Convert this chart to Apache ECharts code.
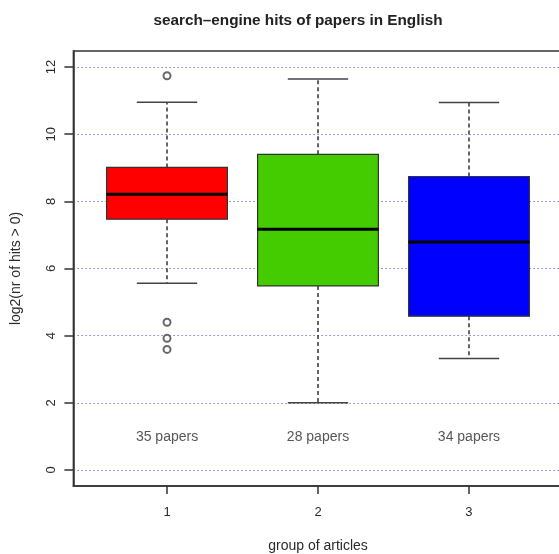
<!DOCTYPE html>
<html><head><meta charset="utf-8">
<script src="https://cdn.jsdelivr.net/npm/echarts@6/dist/echarts.min.js"></script>
<style>html,body{margin:0;padding:0;background:#fff}#c{width:559px;height:554px}</style>
</head><body><div id="c"></div>
<script>
// Group positions and their tick labels
const groups = [1, 2, 3];
const groupLabels = ['1', '2', '3'];
// Five-number summaries per group (log2 of hit counts)
const lowerWhisker = [5.56, 2.0, 3.32];
const q1 = [7.47, 5.48, 4.58];
const median = [8.21, 7.17, 6.79];
const q3 = [9.01, 9.40, 8.74];
const upperWhisker = [10.95, 11.64, 10.94];
// Points beyond the whiskers: [group, value]
const outlierGroup = [1, 1, 1, 1];
const outlierValue = [11.74, 4.40, 3.92, 3.59];
// Number of papers per group
const paperCounts = [35, 28, 34];
const yTicks = [0, 2, 4, 6, 8, 10, 12];

const boxColors = ['#ff0000', '#44cc00', '#0000ff'];
const FONT = '"Liberation Sans", Arial, Helvetica, sans-serif';

const boxRows = groups.map((g, i) => [g, lowerWhisker[i], q1[i], median[i], q3[i], upperWhisker[i]]);
const outlierRows = outlierGroup.map((g, i) => [g, outlierValue[i]]);
const countRows = groups.map((g, i) => [g, 1, paperCounts[i]]);

function renderBox(params, api) {
  const i = params.dataIndex;
  const x = api.value(0);
  const half = 0.4, capHalf = 0.2;
  const c = (xv, yv) => api.coord([xv, yv]);
  const lo = api.value(1), b1 = api.value(2), md = api.value(3), b3 = api.value(4), hi = api.value(5);
  const tl = c(x - half, b3), br = c(x + half, b1);
  const dash = { stroke: '#333', lineWidth: 1.5, lineDash: [4, 3] };
  const cap = { stroke: '#444', lineWidth: 1.5 };
  const mid = c(x, 0)[0];
  return {
    type: 'group',
    children: [
      { type: 'line', shape: { x1: mid, y1: c(x, b3)[1], x2: mid, y2: c(x, hi)[1] }, style: dash },
      { type: 'line', shape: { x1: mid, y1: c(x, b1)[1], x2: mid, y2: c(x, lo)[1] }, style: dash },
      { type: 'line', shape: { x1: c(x - capHalf, hi)[0], y1: c(x, hi)[1], x2: c(x + capHalf, hi)[0], y2: c(x, hi)[1] }, style: cap },
      { type: 'line', shape: { x1: c(x - capHalf, lo)[0], y1: c(x, lo)[1], x2: c(x + capHalf, lo)[0], y2: c(x, lo)[1] }, style: cap },
      { type: 'rect', shape: { x: tl[0], y: tl[1], width: br[0] - tl[0], height: br[1] - tl[1] },
        style: { fill: boxColors[i], stroke: '#333', lineWidth: 1.2 } },
      { type: 'line', shape: { x1: tl[0], y1: c(x, md)[1], x2: br[0], y2: c(x, md)[1] },
        style: { stroke: '#000', lineWidth: 3 } }
    ]
  };
}

const chart = echarts.init(document.getElementById('c'), null, { renderer: 'canvas' });
chart.setOption({
  backgroundColor: '#fff',
  animation: false,
  textStyle: { fontFamily: FONT },
  title: {
    text: 'search\u2013engine hits of papers in English',
    left: 293, top: 8, textAlign: 'center',
    textStyle: { fontFamily: FONT, fontSize: 15.3, fontWeight: 'bold', color: '#222' }
  },
  grid: {
    left: 73.4, top: 50.9, width: 489.2, height: 435.2,
    outerBoundsMode: 'none', containLabel: false,
    show: true, borderColor: '#333', borderWidth: 1.5, backgroundColor: 'transparent'
  },
  xAxis: {
    type: 'value', min: 0.38, max: 3.62,
    name: 'group of articles', nameLocation: 'middle', nameGap: 53,
    nameTextStyle: { fontFamily: FONT, fontSize: 14, color: '#2a2a2a' },
    axisLine: { show: true, onZero: false, lineStyle: { color: '#333', width: 1.5 } },
    axisTick: { show: true, length: 8, customValues: groups, lineStyle: { color: '#333', width: 1.5 } },
    axisLabel: { show: true, customValues: groups, margin: 20,
      formatter: v => groupLabels[groups.indexOf(v)],
      fontFamily: FONT, fontSize: 13, color: '#2a2a2a' },
    splitLine: { show: false }
  },
  yAxis: {
    type: 'value', min: -0.48, max: 12.48,
    name: 'log2(nr of hits > 0)', nameLocation: 'middle', nameGap: 50, nameRotate: 90,
    nameTextStyle: { fontFamily: FONT, fontSize: 14, color: '#2a2a2a' },
    axisLine: { show: true, onZero: false, lineStyle: { color: '#333', width: 1.5 } },
    axisTick: { show: true, length: 9, customValues: yTicks, lineStyle: { color: '#333', width: 1.5 } },
    axisLabel: { show: true, customValues: yTicks, rotate: 90, margin: 15,
      fontFamily: FONT, fontSize: 13, color: '#2a2a2a' },
    splitLine: { show: true, lineStyle: { color: '#7a7ad8', type: [1.5, 2.5], width: 1 } }
  },
  series: [
    {
      type: 'custom', renderItem: renderBox, data: boxRows,
      encode: { x: 0, y: [1, 2, 3, 4, 5] }, z: 3
    },
    {
      type: 'scatter', data: outlierRows, symbol: 'emptyCircle', symbolSize: 7,
      itemStyle: { color: '#444', borderColor: '#444', borderWidth: 0.9 }, z: 4
    },
    {
      type: 'scatter', data: countRows, symbolSize: 0, z: 4,
      label: { show: true, position: 'inside', offset: [0, 1], formatter: p => p.value[2] + ' papers',
        fontFamily: FONT, fontSize: 14, color: '#2a2a2a' }
    }
  ]
});
</script>
</body></html>
